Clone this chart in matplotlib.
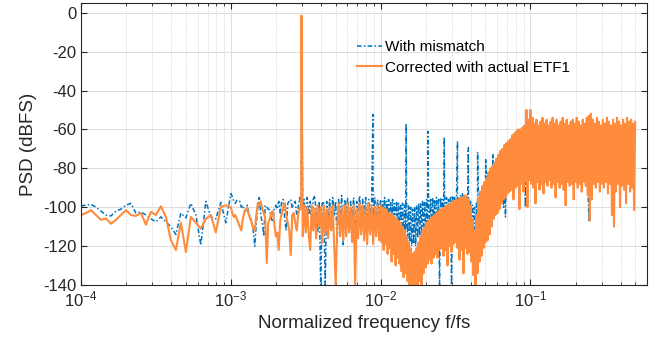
import numpy as np
import matplotlib
matplotlib.use('Agg')
import matplotlib.pyplot as plt

plt.rcParams['font.family'] = ['Liberation Sans', 'DejaVu Sans']
plt.rcParams['mathtext.fontset'] = 'custom'
plt.rcParams['mathtext.rm'] = 'Liberation Sans'
plt.rcParams['mathtext.default'] = 'regular'
plt.rcParams['axes.unicode_minus'] = False

decades = [1e-4, 1e-3, 1e-2, 1e-1, 0.5]

# "With mismatch" PSD (dBFS), one list per decade
blue_d1 = [-99.3, -99, -98.5, -100, -102, -104, -104.5, -102, -101, -99,
           -98, -103, -102.5, -104, -106, -107.5, -105, -107.5, -110, -114,
           -103, -105.5, -98, -104, -119.5, -97, -105, -106, -97.5, -108]
blue_d2 = [-93, -94.5, -97, -98, -96.5, -97, -97, -100, -99, -102,
           -102, -99, -103, -105, -108, -112, -120, -108, -100, -95,
           -104, -108, -115, -99, -100, -101, -101.5, -106, -107.5, -101,
           -99, -101, -97, -103, -97, -96, -106, -112, -98, -97,
           -96, -100.5, -98, -97, -104, -100, -95, -100, -103, -96,
           -108, -95, -104, -97, -110, -96, -94, -103, -113, -97,
           -140, -98, -97, -140, -97, -106, -96, -112, -95, -104,
           -97, -118, -96, -107, -94, -120, -96, -103, -95, -109,
           -97, -105, -95, -114, -97, -102, -94, -110, -96, -104,
           -95, -108, -96, -103, -97, -111, -95, -106, -96, -104]
blue_d3 = [-96, -108, -97, -104, -95, -110, -97, -106, -96, -111,
           -97, -107, -96, -109, -98, -112, -97, -108, -98, -113,
           -99, -110, -98, -115, -99, -112, -100, -116, -99, -118,
           -100, -120, -101, -119, -100, -120, -99, -116, -98, -115,
           -98, -114, -97, -112, -97, -111, -96, -110, -97, -109,
           -96, -111, -95, -108, -96, -110, -95, -108, -96, -140,
           -95, -107, -96, -110, -94, -106, -95, -109, -96, -107,
           -95, -140, -94, -109, -95, -107, -94, -110, -95, -106,
           -94, -108, -93, -105, -94, -108, -95, -104, -95, -106,
           -97, -110, -99, -112, -100, -113, -98, -108, -94, -105,
           -92, -108, -90, -112, -88, -104, -87, -112, -85, -100,
           -84, -105, -82, -98, -81, -97, -79, -96, -78, -95,
           -77, -92, -76, -100, -75, -105, -74, -90, -72, -88,
           -71, -89, -70, -87, -68, -86, -67, -88, -66, -86,
           -65, -87, -64, -86, -63, -100, -62, -86, -62, -85]
blue_d4 = [-60, -82, -59, -81, -60, -83, -58, -80, -59, -82,
           -58, -81, -60, -82, -59, -80, -58, -83, -59, -106.7,
           -58, -81, -59, -82, -58, -80, -60, -83, -59, -81,
           -58, -82, -59, -81, -60]

# "Corrected with actual ETF1" PSD (dBFS)
orange_d1 = [-104, -103, -101.5, -104, -106.5, -105.8, -108.5, -106.5, -104, -101.5,
             -104, -104.5, -103, -109, -102.4, -104, -99.5, -105, -117, -122,
             -108, -123, -105, -108, -111, -106, -104, -113, -100, -99]
orange_d2 = [-100, -103, -105, -104, -106, -108, -110, -112, -106, -103,
             -101, -100.5, -104, -106, -108, -111, -112, -104, -98, -99,
             -97, -101, -103, -106, -128.7, -108, -106, -103, -102, -108,
             -115, -113, -122, -107, -103, -100, -98, -104, -108, -112,
             -124.6, -104, -103, -108, -112, -104, -100, -101, -115, -99,
             -113, -100, -114, -122, -99, -112, -101, -116, -99, -110,
             -100, -118.5, -99, -114, -101, -116, -100, -112, -99, -120,
             -140, -110, -98, -115, -100, -117, -99, -115, -98, -113,
             -100, -118, -99, -140, -101, -116, -98, -114, -99, -117,
             -100, -119, -98, -114, -99, -119, -100, -115, -99, -117]
orange_d3 = [-99, -118, -100, -122, -101, -119, -101, -124, -103, -121,
             -103, -128, -104, -124, -105, -130, -106, -126, -107, -129,
             -108, -133, -110, -136, -112, -134, -115, -138, -118, -140,
             -121, -140, -124, -140, -123, -140, -121, -140, -118, -138,
             -115, -140, -112, -134, -110, -131, -108, -129, -107, -127,
             -106, -129, -105, -126, -104, -124, -103, -126, -102, -122,
             -101, -121, -101, -125, -100, -122, -99, -130, -99, -120,
             -98, -123, -97, -119, -97, -118, -96, -121, -96, -127,
             -95, -122, -95, -134, -94, -121, -94, -124, -96, -123,
             -99, -128, -106, -135, -112, -140, -104, -134, -95, -128,
             -92, -125, -89, -121, -87, -118, -85, -117, -82, -114,
             -80, -110, -79, -106, -77, -104, -75, -103, -73, -101,
             -71, -98, -70, -96, -68, -95, -67, -93, -66, -92,
             -65, -91, -63, -96, -62, -90, -61, -89, -60, -101,
             -60, -88, -59, -92, -58, -87, -50, -100, -55, -86]
orange_d4 = [-50, -88, -54, -90, -57, -98, -55, -87, -58, -91,
             -56, -88, -54, -93, -57, -87, -55, -89, -58, -86,
             -56, -90, -54, -88, -57, -95, -55, -87, -58, -90,
             -56, -88, -54, -91, -57, -99, -55, -87, -58, -89,
             -56, -88, -55, -96, -57, -87, -54, -90, -56, -88,
             -58, -92, -55, -87, -57, -89, -54, -94, -53, -107,
             -52, -96, -55, -88, -57, -90, -54, -87, -56, -92,
             -58, -88, -55, -90, -57, -87, -54, -93, -56, -88,
             -58, -104, -55, -110, -57, -92, -54, -88, -56, -100,
             -58, -89, -55, -91, -57, -98, -54, -88, -56, -92,
             -55, -90, -57, -101.5, -56]

# input tone and its odd harmonic spurs
spur_f = [0.00296, 0.00888, 0.0148, 0.0207, 0.0266, 0.0326, 0.0385, 0.0444, 0.0503, 0.0562]
blue_spur_db = [-1.5, -52.3, -57, -61, -64, -66, -69.4, -71.6, -75, -72.5]
orange_spur_f = [0.00296]
orange_spur_db = [-1.5]


def build(parts, sf, sdb):
    f = []
    for k, p in enumerate(parts):
        last = k == len(parts) - 1
        f.append(np.geomspace(decades[k], decades[k + 1], len(p), endpoint=last))
    f = np.concatenate(f + [np.array(sf)])
    p = np.concatenate([np.array(q, float) for q in parts] + [np.array(sdb, float)])
    idx = np.argsort(f)
    return f[idx], p[idx]


fb, pb = build([blue_d1, blue_d2, blue_d3, blue_d4], spur_f, blue_spur_db)
fo, po = build([orange_d1, orange_d2, orange_d3, orange_d4], orange_spur_f, orange_spur_db)

fig = plt.figure(figsize=(6.7, 3.42), dpi=100)
ax = fig.add_axes([81 / 670, 57 / 342, 566 / 670, 282 / 342])

ax.semilogx(fb, pb, color='#0072BD', lw=1.1, ls=(0, (3, 1.5, 1, 1.5)), label='With mismatch')
ax.semilogx(fo, po, color='#FF8B3D', lw=1.5, label='Corrected with actual ETF1')

ax.set_xlim(1e-4, 0.6)
ax.set_ylim(-140, 5)
ax.set_yticks(range(-140, 1, 20))

ax.grid(True, which='major', color='#dcdcdc', lw=0.7)
ax.grid(True, which='minor', axis='x', color='#c8c8c8', lw=0.6, ls=':')
ax.set_axisbelow(True)

ax.tick_params(which='both', direction='in', top=True, right=True, colors='#262626', labelsize=12)
ax.tick_params(which='major', length=4)
ax.tick_params(which='minor', length=2.5)
for s in ax.spines.values():
    s.set_color('#262626')
    s.set_linewidth(0.8)

ax.set_xlabel('Normalized frequency f/fs', fontsize=13.5, color='#262626')
ax.set_ylabel('PSD (dBFS)', fontsize=13.5, color='#262626')

ax.legend(loc='upper left', bbox_to_anchor=(0.488, 0.869), frameon=False, fontsize=11,
          handlelength=1.65, handletextpad=0.15, labelspacing=0.43,
          borderpad=0, borderaxespad=0)

fig.savefig('out.png', dpi=100)
